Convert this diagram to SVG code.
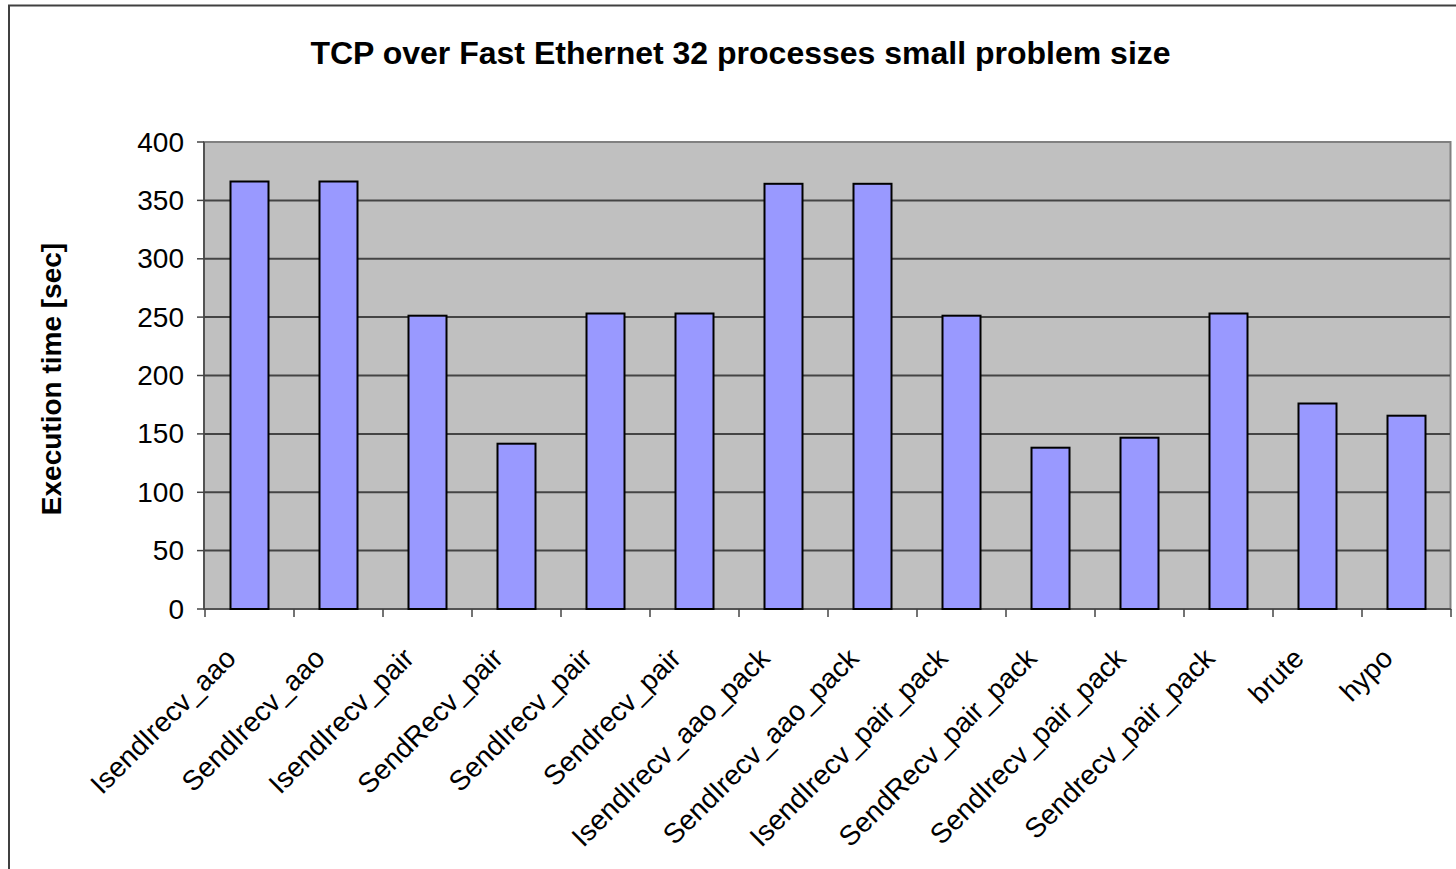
<svg xmlns="http://www.w3.org/2000/svg" width="1456" height="869" viewBox="0 0 1456 869">
<style>
.title{font-family:"Liberation Sans",Arial,sans-serif;font-weight:bold;font-size:32px;fill:#000;text-anchor:middle}
.ylab{font-family:"Liberation Sans",Arial,sans-serif;font-weight:bold;font-size:28px;fill:#000;text-anchor:middle}
.tick{font-family:"Liberation Sans",Arial,sans-serif;font-size:28px;fill:#000;text-anchor:end}
.cat{font-family:"Liberation Sans",Arial,sans-serif;font-size:28px;fill:#000;text-anchor:end}
.bar{fill:#9999FF;stroke:#000;stroke-width:2}
.grid{stroke:#444;stroke-width:2}
.tk{stroke:#444;stroke-width:1.5}
</style>
<rect x="0" y="0" width="1456" height="869" fill="#fff"/>
<rect x="9" y="5.5" width="1460" height="880" fill="none" stroke="#404040" stroke-width="2"/>
<text class="title" x="740.5" y="64">TCP over Fast Ethernet 32 processes small problem size</text>
<text class="ylab" transform="translate(61,379) rotate(-90)">Execution time [sec]</text>
<g id="plot">
<rect x="204" y="142" width="1246.5" height="467" fill="#C0C0C0" stroke="#808080" stroke-width="2"/>
<g id="grid">
<line class="grid" x1="204" y1="200.4" x2="1450" y2="200.4"/>
<line class="grid" x1="204" y1="258.8" x2="1450" y2="258.8"/>
<line class="grid" x1="204" y1="317.1" x2="1450" y2="317.1"/>
<line class="grid" x1="204" y1="375.5" x2="1450" y2="375.5"/>
<line class="grid" x1="204" y1="433.9" x2="1450" y2="433.9"/>
<line class="grid" x1="204" y1="492.3" x2="1450" y2="492.3"/>
<line class="grid" x1="204" y1="550.6" x2="1450" y2="550.6"/>
</g>
</g>
<g id="axes">
<line class="tk" x1="204" y1="142" x2="204" y2="609"/>
<line class="tk" x1="204" y1="609" x2="1451" y2="609"/>
<g id="yticks">
<line class="tk" x1="197" y1="142" x2="204" y2="142"/>
<line class="tk" x1="197" y1="200.4" x2="204" y2="200.4"/>
<line class="tk" x1="197" y1="258.8" x2="204" y2="258.8"/>
<line class="tk" x1="197" y1="317.1" x2="204" y2="317.1"/>
<line class="tk" x1="197" y1="375.5" x2="204" y2="375.5"/>
<line class="tk" x1="197" y1="433.9" x2="204" y2="433.9"/>
<line class="tk" x1="197" y1="492.3" x2="204" y2="492.3"/>
<line class="tk" x1="197" y1="550.6" x2="204" y2="550.6"/>
<line class="tk" x1="197" y1="609" x2="204" y2="609"/>
</g>
<g id="xticks">
<line class="tk" x1="205" y1="609" x2="205" y2="617"/>
<line class="tk" x1="294" y1="609" x2="294" y2="617"/>
<line class="tk" x1="383" y1="609" x2="383" y2="617"/>
<line class="tk" x1="472" y1="609" x2="472" y2="617"/>
<line class="tk" x1="561" y1="609" x2="561" y2="617"/>
<line class="tk" x1="650" y1="609" x2="650" y2="617"/>
<line class="tk" x1="739" y1="609" x2="739" y2="617"/>
<line class="tk" x1="828" y1="609" x2="828" y2="617"/>
<line class="tk" x1="917" y1="609" x2="917" y2="617"/>
<line class="tk" x1="1006" y1="609" x2="1006" y2="617"/>
<line class="tk" x1="1095" y1="609" x2="1095" y2="617"/>
<line class="tk" x1="1184" y1="609" x2="1184" y2="617"/>
<line class="tk" x1="1273" y1="609" x2="1273" y2="617"/>
<line class="tk" x1="1362" y1="609" x2="1362" y2="617"/>
<line class="tk" x1="1451" y1="609" x2="1451" y2="617"/>
</g>
<g id="ylabels">
<text class="tick" x="184" y="151.5">400</text>
<text class="tick" x="184" y="209.9">350</text>
<text class="tick" x="184" y="268.3">300</text>
<text class="tick" x="184" y="326.6">250</text>
<text class="tick" x="184" y="385">200</text>
<text class="tick" x="184" y="443.4">150</text>
<text class="tick" x="184" y="501.8">100</text>
<text class="tick" x="184" y="560.1">50</text>
<text class="tick" x="184" y="618.5">0</text>
</g>
</g>
<g id="bars">
<rect id="bar0" class="bar" x="230.5" y="181.5" width="38" height="427.5"/>
<rect id="bar1" class="bar" x="319.5" y="181.5" width="38" height="427.5"/>
<rect id="bar2" class="bar" x="408.5" y="315.7" width="38" height="293.3"/>
<rect id="bar3" class="bar" x="497.5" y="443.7" width="38" height="165.3"/>
<rect id="bar4" class="bar" x="586.5" y="313.5" width="38" height="295.5"/>
<rect id="bar5" class="bar" x="675.5" y="313.5" width="38" height="295.5"/>
<rect id="bar6" class="bar" x="764.5" y="183.8" width="38" height="425.2"/>
<rect id="bar7" class="bar" x="853.5" y="183.8" width="38" height="425.2"/>
<rect id="bar8" class="bar" x="942.5" y="315.7" width="38" height="293.3"/>
<rect id="bar9" class="bar" x="1031.5" y="447.7" width="38" height="161.3"/>
<rect id="bar10" class="bar" x="1120.5" y="437.7" width="38" height="171.3"/>
<rect id="bar11" class="bar" x="1209.5" y="313.5" width="38" height="295.5"/>
<rect id="bar12" class="bar" x="1298.5" y="403.5" width="38" height="205.5"/>
<rect id="bar13" class="bar" x="1387.5" y="415.7" width="38" height="193.3"/>
</g>
<g id="categories">
<text class="cat" transform="translate(237.5,660) rotate(-45)">IsendIrecv_aao</text>
<text class="cat" transform="translate(326.5,660) rotate(-45)">SendIrecv_aao</text>
<text class="cat" transform="translate(415.5,660) rotate(-45)">IsendIrecv_pair</text>
<text class="cat" transform="translate(504.5,660) rotate(-45)">SendRecv_pair</text>
<text class="cat" transform="translate(593.5,660) rotate(-45)">SendIrecv_pair</text>
<text class="cat" transform="translate(682.5,660) rotate(-45)">Sendrecv_pair</text>
<text class="cat" transform="translate(771.5,660) rotate(-45)">IsendIrecv_aao_pack</text>
<text class="cat" transform="translate(860.5,660) rotate(-45)">SendIrecv_aao_pack</text>
<text class="cat" transform="translate(949.5,660) rotate(-45)">IsendIrecv_pair_pack</text>
<text class="cat" transform="translate(1038.5,660) rotate(-45)">SendRecv_pair_pack</text>
<text class="cat" transform="translate(1127.5,660) rotate(-45)">SendIrecv_pair_pack</text>
<text class="cat" transform="translate(1216.5,660) rotate(-45)">Sendrecv_pair_pack</text>
<text class="cat" transform="translate(1305.5,660) rotate(-45)">brute</text>
<text class="cat" transform="translate(1394.5,660) rotate(-45)">hypo</text>
</g>
</svg>
